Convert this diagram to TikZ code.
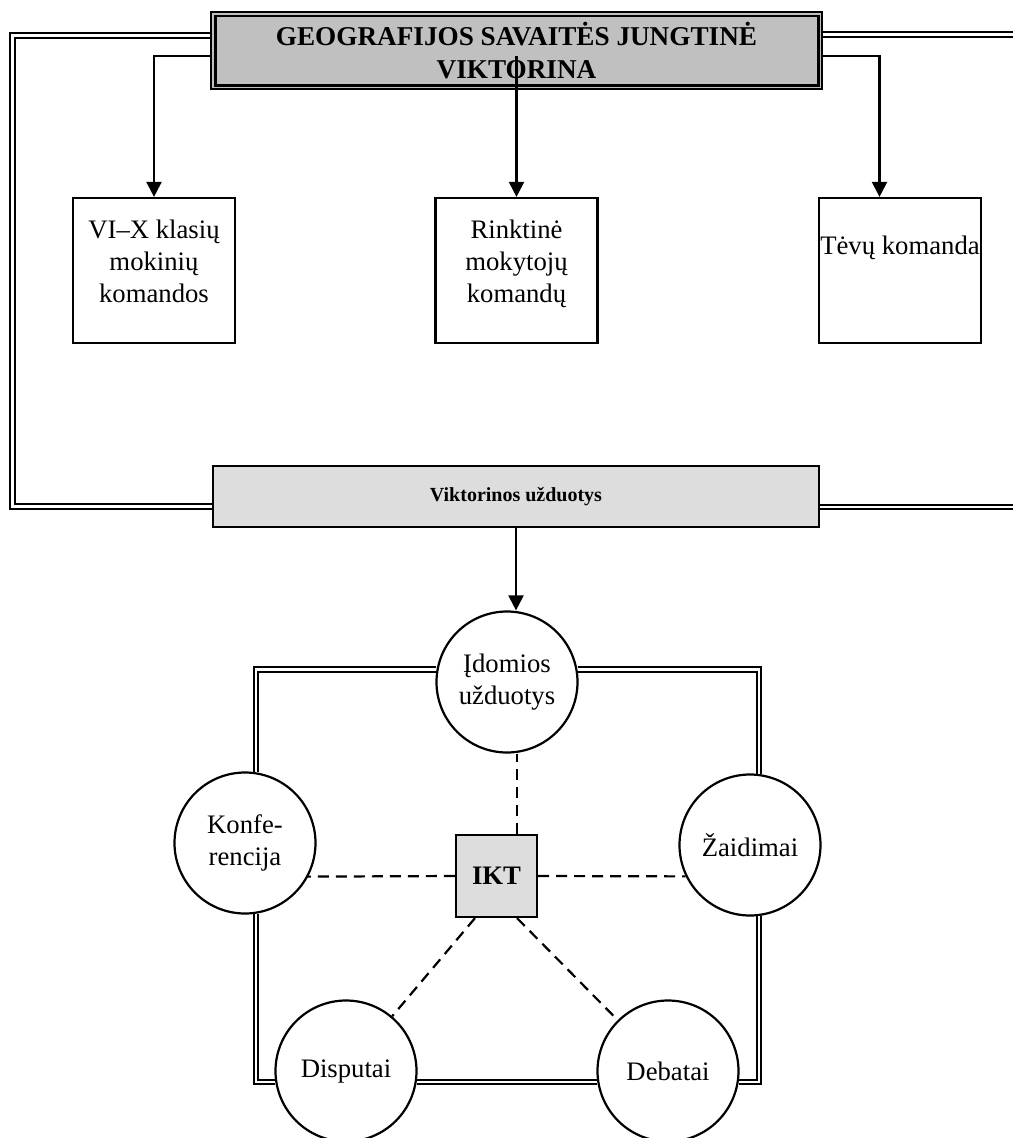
\documentclass[tikz,border=0pt]{standalone}
\usepackage{fontspec}
\setmainfont{Liberation Serif}
\usetikzlibrary{arrows.meta}
\definecolor{topgray}{HTML}{C0C0C0}
\definecolor{lightfill}{HTML}{DDDDDD}
\begin{document}
\begin{tikzpicture}[x=1pt,y=-1pt,
  arr/.style={line width=2.2pt, -{Triangle[length=15pt,width=15pt]}},
  dbl/.style={double, double distance=2.4pt, line width=2pt},
  dsh/.style={line width=2.2pt, dash pattern=on 11pt off 7pt},
  box/.style={draw, line width=2.2pt, minimum width=162pt, minimum height=145pt, inner sep=0pt, align=center, font=\fontsize{26.7}{32}\selectfont},
  circ/.style={circle, draw, line width=2.2pt, minimum size=141pt, inner sep=0pt, align=center, fill=white, font=\fontsize{26.7}{32}\selectfont},
  shaded/.style={draw, line width=2.2pt, fill=lightfill, inner sep=0pt, font=\bfseries\fontsize{26.7}{32}\selectfont},
]
\useasboundingbox (0,0) rectangle (1013,1138);

% top title box
\node[draw, line width=1.2pt, fill=topgray, minimum width=611pt, minimum height=77pt, inner sep=0pt, align=center, font=\bfseries\fontsize{27.2}{33}\selectfont] (top) at (516.5,50.5) {GEOGRAFIJOS SAVAITĖS JUNGTINĖ\\VIKTORINA};
\draw[line width=2.6pt] ([xshift=5pt,yshift=-4.5pt]top.north west) rectangle ([xshift=-4pt,yshift=4pt]top.south east);

% three team boxes
\node[box, text depth=18pt] (b1) at (154,270.5) {VI–X klasių\\mokinių\\komandos};
\node[box, text depth=18pt] (b2) at (516.5,270.5) {Rinktinė\\mokytojų\\komandų};
\node[box, text depth=51pt] (b3) at (900,270.5) {Tėvų komanda};

% tasks box
\node[shaded, minimum width=606pt, minimum height=61pt, font=\bfseries\fontsize{20}{24}\selectfont] (mid) at (516,496.5) {Viktorinos užduotys};

% circles
\node[circ] (idom) at (507,682) {Įdomios\\užduotys};
\node[circ] (konf) at (245,843) {Konfe-\\rencija};
\node[circ] (zaid) at (750,845) {Žaidimai};
\node[circ] (disp) at (346,1071) {Disputai};
\node[circ] (deb) at (668,1071) {Debatai};
\node[shaded, minimum width=81pt, minimum height=82pt] (ikt) at (496.5,876) {IKT};

% outer double frame (top part)
\coordinate (lt) at (12.5,35.5);
\coordinate (lb) at (12.5,506.5);
\coordinate (rt) at (1013,34.5);
\coordinate (rm) at (1013,507);
\draw[dbl] (top.west |- lt) -- (lt) -- (lb) -- (mid.west |- lb);
\draw[dbl] (top.east |- rt) -- (rt);
\draw[dbl] (mid.east |- rm) -- (rm);

% arrows from title box
\coordinate (ya) at (0,56);
\draw[arr] (top.west |- ya) -| (b1.north);
\draw[arr] (top.east |- ya) -| ([xshift=-20.5pt]b3.north);
\draw[arr] (b2.north |- ya) -- (b2.north);
\draw[arr] (mid.south) -- (mid.south |- idom.north);

% lower double frame
\draw[dbl] (konf.81) |- (idom.170);
\draw[dbl] (idom.10) -| (zaid.83);
\draw[dbl] (konf.-81) |- (disp.189);
\draw[dbl] (disp.-9) -- (deb.189);
\draw[dbl] (deb.-9) -| (zaid.-83);

% dashed links to IKT
\coordinate (dtop) at ([xshift=20.5pt]ikt.north);
\coordinate (dl) at ([xshift=-21.5pt]ikt.south);
\coordinate (dr) at ([xshift=20.5pt]ikt.south);
\draw[dsh] (dtop) -- (dtop |- idom.south);
\draw[dsh] (ikt.west) -- (konf.-28);
\draw[dsh] (ikt.east) -- (zaid.206);
\draw[dsh] (dl) -- (disp);
\draw[dsh] (dr) -- (deb);
\end{tikzpicture}
\end{document}
